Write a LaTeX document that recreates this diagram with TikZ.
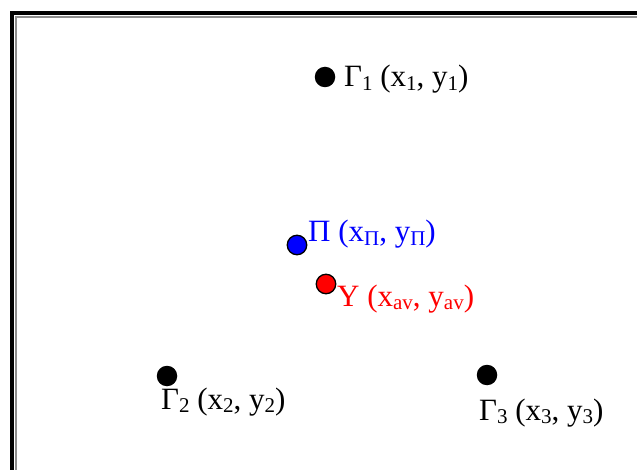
\documentclass[tikz,border=0pt]{standalone}
\usepackage{fontspec}
\setmainfont{Liberation Serif}
\usetikzlibrary{positioning}

\newcommand{\sbs}[1]{\raisebox{-0.22ex}{\fontsize{21}{21}\selectfont #1}}

\begin{document}
\begin{tikzpicture}[
  x=1pt, y=-1pt,
  font=\fontsize{31}{33}\selectfont,
  pt/.style={circle, fill=black, inner sep=0pt, minimum size=20.5pt},
  cpt/.style={circle, draw=black, line width=1.3pt, inner sep=0pt,
              minimum size=19.5pt},
  lbl/.style={inner sep=0pt, anchor=base west}]

  \useasboundingbox (0,0) rectangle (637,470);

  % frame, cut by the page edge
  \draw[line width=4pt] (12,470) -- (12,13) -- (637,13);
  \draw[line width=1.8pt, black!45] (16,470) -- (16,17) -- (637,17);

  \node[pt] (g1) at (325,77) {};
  \node[pt] (g2) at (167,376) {};
  \node[pt] (g3) at (487,375) {};
  \node[cpt, fill=blue] (pi) at (297,245) {};
  \node[cpt, fill=red] (ups) at (326,284) {};

  \node[lbl] (g1lbl) at (344,87) {Γ\sbs{1} (x\sbs{1}, y\sbs{1})};
  \node[lbl] (g2lbl) at (161,409) {Γ\sbs{2} (x\sbs{2}, y\sbs{2})};
  \node[lbl] (g3lbl) at (479,420) {Γ\sbs{3} (x\sbs{3}, y\sbs{3})};
  \node[lbl, text=blue] (pilbl) at (308,242) {Π (x\sbs{Π}, y\sbs{Π})};
  \node[lbl, text=red] (upslbl) at (337,306) {Υ (x\sbs{av}, y\sbs{av})};
\end{tikzpicture}
\end{document}
